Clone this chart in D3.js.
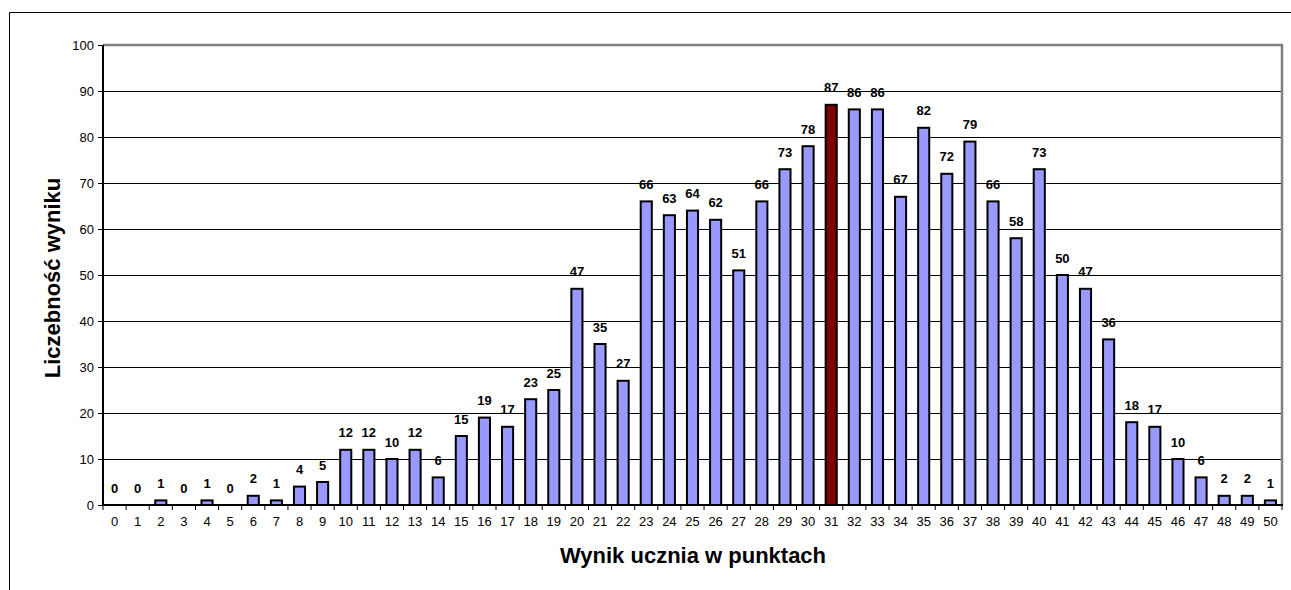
<!DOCTYPE html>
<html><head><meta charset="utf-8">
<script src="https://cdn.jsdelivr.net/npm/d3@7"></script>
<style>body{margin:0;background:#fff}svg{display:block;font-family:Arial,"Liberation Sans",sans-serif}</style>
</head><body><svg id="c" width="1291" height="590"></svg>
<script>
const categories = d3.range(0, 51).map(String);
const values = [0,0,1,0,1,0,2,1,4,5,12,12,10,12,6,15,19,17,23,25,47,35,27,66,63,64,62,51,66,73,78,87,86,86,67,82,72,79,66,58,73,50,47,36,18,17,10,6,2,2,1];
const highlight = "31";
const yTicks = [0,10,20,30,40,50,60,70,80,90,100];
const xTitle = "Wynik ucznia w punktach";
const yTitle = "Liczebność wyniku";

const svg = d3.select("#c");
const m = {l:103, t:45, r:1282, b:505};
const x = d3.scaleBand().domain(categories).range([m.l, m.r]).paddingInner(0.52).paddingOuter(0.26);
const y = d3.scaleLinear().domain([0,100]).range([m.b, m.t]);

// outer frame
svg.append("path").attr("d","M9.5,590 L9.5,12.5 L1291,12.5").attr("fill","none").attr("stroke","#000").attr("stroke-width",1);

// gridlines
svg.append("g").selectAll("line").data(yTicks.filter(d=>d>0 && d<100)).join("line")
  .attr("x1",m.l).attr("x2",m.r).attr("y1",d=>Math.round(y(d))+0.5).attr("y2",d=>Math.round(y(d))+0.5)
  .attr("stroke","#000").attr("stroke-width",1);

// plot border top/right gray
svg.append("path").attr("d",`M${m.l},${m.t} L${m.r},${m.t} L${m.r},${m.b}`).attr("fill","none").attr("stroke","#808080").attr("stroke-width",2.5);

// bars
const data = categories.map((c,i)=>({c, v:values[i]}));
svg.append("g").selectAll("rect").data(data.filter(d=>d.v>0)).join("rect")
  .attr("x",d=>x(d.c)).attr("width",x.bandwidth())
  .attr("y",d=>y(d.v)).attr("height",d=>y(0)-y(d.v))
  .attr("fill",d=>d.c===highlight?"#800000":"#9999FF")
  .attr("stroke","#000").attr("stroke-width",2);

// value labels
svg.append("g").selectAll("text").data(data).join("text")
  .attr("x",d=>x(d.c)+x.bandwidth()/2).attr("y",d=>y(d.v)-12.5)
  .attr("text-anchor","middle").attr("font-size",13).attr("font-weight","bold").attr("fill","#000").text(d=>d.v);

// y axis
const ya = svg.append("g").attr("transform",`translate(${m.l},0)`)
  .call(d3.axisLeft(y).tickValues(yTicks).tickSize(5).tickPadding(4));
ya.attr("font-size",null).attr("font-family",null);
ya.select(".domain").attr("stroke","#000").attr("stroke-width",2).attr("d",`M0,${m.t}V${m.b}`);
ya.selectAll(".tick line").attr("stroke","#000");
ya.selectAll("text").style("font-size","13px").style("font-family","Arial,'Liberation Sans',sans-serif").attr("fill","#000");

// x axis
const xg = svg.append("g").attr("transform",`translate(0,${m.b})`);
xg.append("line").attr("x1",m.l).attr("x2",m.r+1).attr("stroke","#000").attr("stroke-width",2);
xg.selectAll("line.t").data(d3.range(0,52)).join("line").attr("class","t")
  .attr("x1",i=>m.l+i*(m.r-m.l)/51).attr("x2",i=>m.l+i*(m.r-m.l)/51).attr("y1",0).attr("y2",5)
  .attr("stroke","#000").attr("stroke-width",1);
xg.selectAll("text").data(categories).join("text")
  .attr("x",d=>x(d)+x.bandwidth()/2).attr("y",21).attr("text-anchor","middle")
  .attr("font-size",13).attr("fill","#000").text(d=>d);

// titles
svg.append("text").attr("x",693).attr("y",563).attr("text-anchor","middle")
  .attr("font-size",22).attr("font-weight","bold").attr("fill","#000").text(xTitle);
svg.append("text").attr("transform",`translate(60,278) rotate(-90)`).attr("text-anchor","middle")
  .attr("font-size",22).attr("font-weight","bold").attr("fill","#000").text(yTitle);
</script></body></html>
